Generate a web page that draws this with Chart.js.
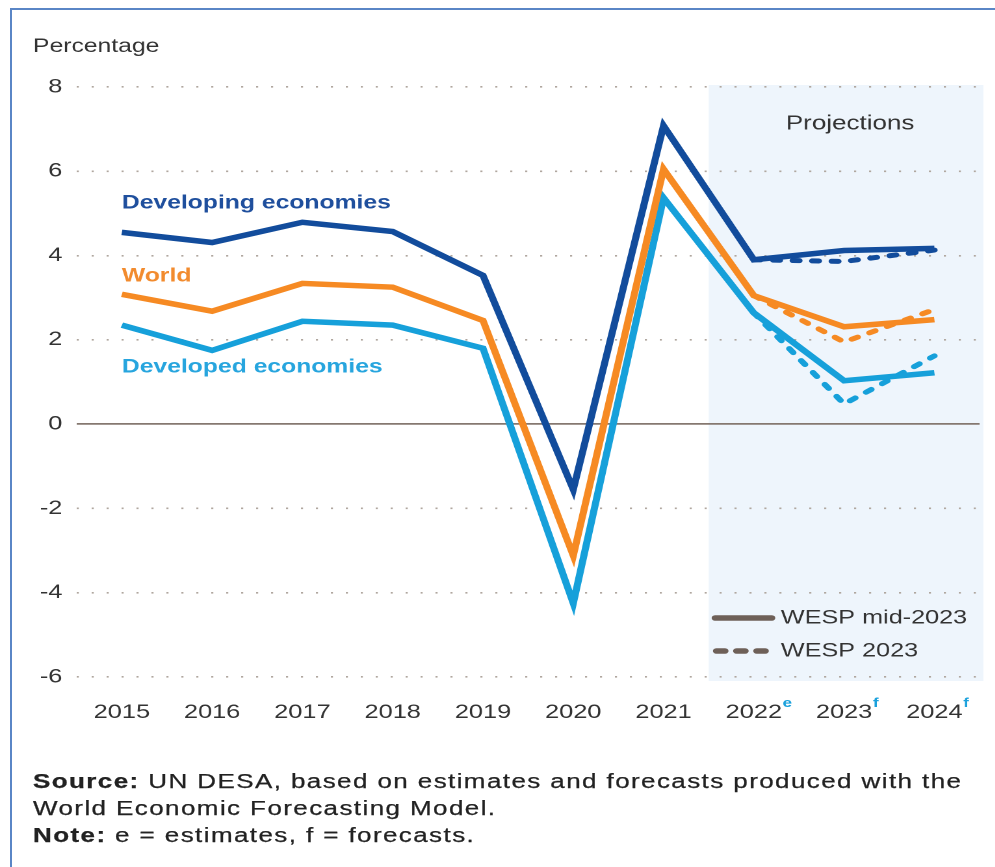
<!DOCTYPE html>
<html>
<head>
<meta charset="utf-8">
<script src="https://cdn.jsdelivr.net/npm/chart.js@4.4.1/dist/chart.umd.min.js"></script>
<style>
html,body{margin:0;padding:0;background:#fff;width:995px;height:867px;overflow:hidden;}
#frame{position:absolute;left:10px;top:8px;width:990px;height:880px;border-left:2px solid #5a86c6;border-top:2px solid #5a86c6;}
#stage{position:absolute;left:0;top:0;width:765px;height:867px;transform:scaleX(1.3);transform-origin:0 0;}
#chartbox{position:absolute;left:0;top:0;width:765px;height:740px;}
#notes{position:absolute;left:25.4px;top:768px;font-family:'Liberation Sans',Arial,sans-serif;font-size:20px;line-height:27px;color:#222;white-space:nowrap;letter-spacing:1.08px;-webkit-text-stroke:0.25px #222;}
#notes b{font-weight:bold;}
</style>
</head>
<body>
<div id="frame"></div>
<div id="stage">
  <div id="chartbox"><canvas id="c"></canvas></div>
  <div id="notes">
    <div><b>Source:</b> UN DESA, based on estimates and forecasts produced with the</div>
    <div>World Economic Forecasting Model.</div>
    <div><b>Note:</b> e = estimates, f = forecasts.</div>
  </div>
</div>
<script>
// ---- data ----
const years = ['2015','2016','2017','2018','2019','2020','2021','2022','2023','2024'];
const yearMarks = ['','','','','','','','e','f','f'];
const yTicks = [8, 6, 4, 2, 0, -2, -4, -6];

// WESP mid-2023 (solid)
const developingMid = [4.55, 4.31, 4.79, 4.57, 3.53, -1.55, 7.08, 3.9, 4.12, 4.17];
const worldMid      = [3.08, 2.68, 3.34, 3.25, 2.46, -3.12, 6.05, 3.05, 2.31, 2.48];
const developedMid  = [2.35, 1.75, 2.44, 2.35, 1.80, -4.25, 5.37, 2.64, 1.03, 1.22];
// WESP 2023 (dashed)
const developing2023 = [null, null, null, null, null, null, null, 3.9, 3.86, 4.13];
const world2023      = [null, null, null, null, null, null, null, 3.05, 1.95, 2.72];
const developed2023  = [null, null, null, null, null, null, null, 2.64, 0.48, 1.62];

const seriesNames = ['Developing economies', 'World', 'Developed economies'];
const seriesLabelY = [5.24, 3.51, 1.35];
const legendNames = ['WESP mid-2023', 'WESP 2023'];

const COL_DEV = '#124c9c', COL_WORLD = '#f68a23', COL_DEVD = '#16a0da';
const LABEL_COLS = ['#1f4f9d', '#f28b2e', '#27a5de'];
const LEG_COL = '#6e6058';
const FONT = "'Liberation Sans', Arial, sans-serif";

Chart.defaults.font.family = FONT;
Chart.defaults.font.size = 19;
Chart.defaults.color = '#333';

const solid = (label, data, color) => ({label, data, borderColor: color, backgroundColor: color,
  borderWidth: 5.5, pointRadius: 0, tension: 0, spanGaps: false, borderJoinStyle: 'miter'});
const dashed = (label, data, color) => ({label, data, borderColor: color, backgroundColor: color,
  borderWidth: 5, pointRadius: 0, tension: 0, borderDash: [5, 10], borderCapStyle: 'round'});

const annot = {
  id: 'annot',
  beforeDraw(chart) {
    const {ctx, chartArea: a, scales: {x}} = chart;
    const left = (x.getPixelForValue(6) + x.getPixelForValue(7)) / 2;
    ctx.save();
    ctx.fillStyle = '#eef5fc';
    ctx.fillRect(left, a.top - 2, a.right - left + 3, a.bottom - a.top + 6);
    ctx.restore();
  },
  afterDraw(chart) {
    const {ctx, chartArea: a, scales: {x, y}} = chart;
    const shadeL = (x.getPixelForValue(6) + x.getPixelForValue(7)) / 2;
    ctx.save();
    // axis title
    ctx.font = '19px ' + FONT;
    ctx.fillStyle = '#333';
    ctx.textBaseline = 'middle';
    ctx.textAlign = 'left';
    ctx.fillText('Percentage', 25.4, 47);
    // projections
    ctx.font = '20px ' + FONT;
    ctx.textAlign = 'center';
    ctx.fillText('Projections', (shadeL + a.right) / 2 + 4.6, a.top + 37);
    // series labels
    ctx.font = 'bold 19px ' + FONT;
    ctx.textAlign = 'left';
    seriesNames.forEach((n, i) => {
      ctx.fillStyle = LABEL_COLS[i];
      ctx.fillText(n, x.getPixelForValue(0), y.getPixelForValue(seriesLabelY[i]));
    });
    // superscripts on tick labels
    ctx.font = '19.5px ' + FONT;
    const wOf = s => ctx.measureText(s).width;
    yearMarks.forEach((m, i) => {
      if (!m) return;
      const w = wOf(years[i]);
      ctx.save();
      ctx.font = 'bold 13px ' + FONT;
      ctx.fillStyle = '#1ba1dc';
      ctx.textBaseline = 'alphabetic';
      ctx.textAlign = 'left';
      ctx.fillText(m, x.getPixelForValue(i) + w / 2 + 0.5, a.bottom + 30);
      ctx.restore();
    });
    // legend
    const lx0 = shadeL + 5, lx1 = shadeL + 48.5;
    const ly = [a.bottom - 59, a.bottom - 26];
    ctx.strokeStyle = LEG_COL;
    ctx.lineWidth = 5.5;
    ctx.lineCap = 'round';
    ctx.beginPath(); ctx.moveTo(lx0, ly[0]); ctx.lineTo(lx1, ly[0]); ctx.stroke();
    ctx.setLineDash([6.5, 9]);
    ctx.beginPath(); ctx.moveTo(lx0 + 1, ly[1]); ctx.lineTo(lx1, ly[1]); ctx.stroke();
    ctx.setLineDash([]);
    ctx.font = '19.4px ' + FONT;
    ctx.fillStyle = '#333';
    ctx.textAlign = 'left';
    ctx.textBaseline = 'middle';
    legendNames.forEach((n, i) => ctx.fillText(n, shadeL + 55.5, ly[i]));
    ctx.restore();
  }
};

new Chart(document.getElementById('c'), {
  type: 'line',
  data: {
    labels: years,
    datasets: [
      solid(seriesNames[0] + ' (mid-2023)', developingMid, COL_DEV),
      solid(seriesNames[1] + ' (mid-2023)', worldMid, COL_WORLD),
      solid(seriesNames[2] + ' (mid-2023)', developedMid, COL_DEVD),
      dashed(seriesNames[0] + ' (2023)', developing2023, COL_DEV),
      dashed(seriesNames[1] + ' (2023)', world2023, COL_WORLD),
      dashed(seriesNames[2] + ' (2023)', developed2023, COL_DEVD)
    ]
  },
  options: {
    responsive: true,
    maintainAspectRatio: false,
    animation: false,
    devicePixelRatio: 2,
    layout: {padding: {top: 87, right: 11, left: 0, bottom: 0}},
    plugins: {legend: {display: false}, tooltip: {enabled: false}},
    scales: {
      x: {
        offset: true,
        grid: {display: false, drawTicks: false},
        border: {display: false},
        ticks: {padding: 24, color: '#333', font: {size: 19.5}, maxRotation: 0, autoSkip: false},
        afterFit(s) { s.height = 63; }
      },
      y: {
        min: -6, max: 8,
        afterBuildTicks(s) { s.ticks = yTicks.map(v => ({value: v})); },
        grid: {
          drawTicks: false,
          color: c => (c.tick && c.tick.value === 0) ? '#857870' : '#b0a79f',
          lineWidth: c => (c.tick && c.tick.value === 0) ? 1.8 : 1.6
        },
        border: {display: false, dash: c => (c.tick && c.tick.value === 0) ? [] : [1.6, 9.9]},
        ticks: {padding: 11, color: '#333', font: {size: 19.5}},
        afterFit(s) { s.width = 59; }
      }
    }
  },
  plugins: [annot]
});
</script>
</body>
</html>
